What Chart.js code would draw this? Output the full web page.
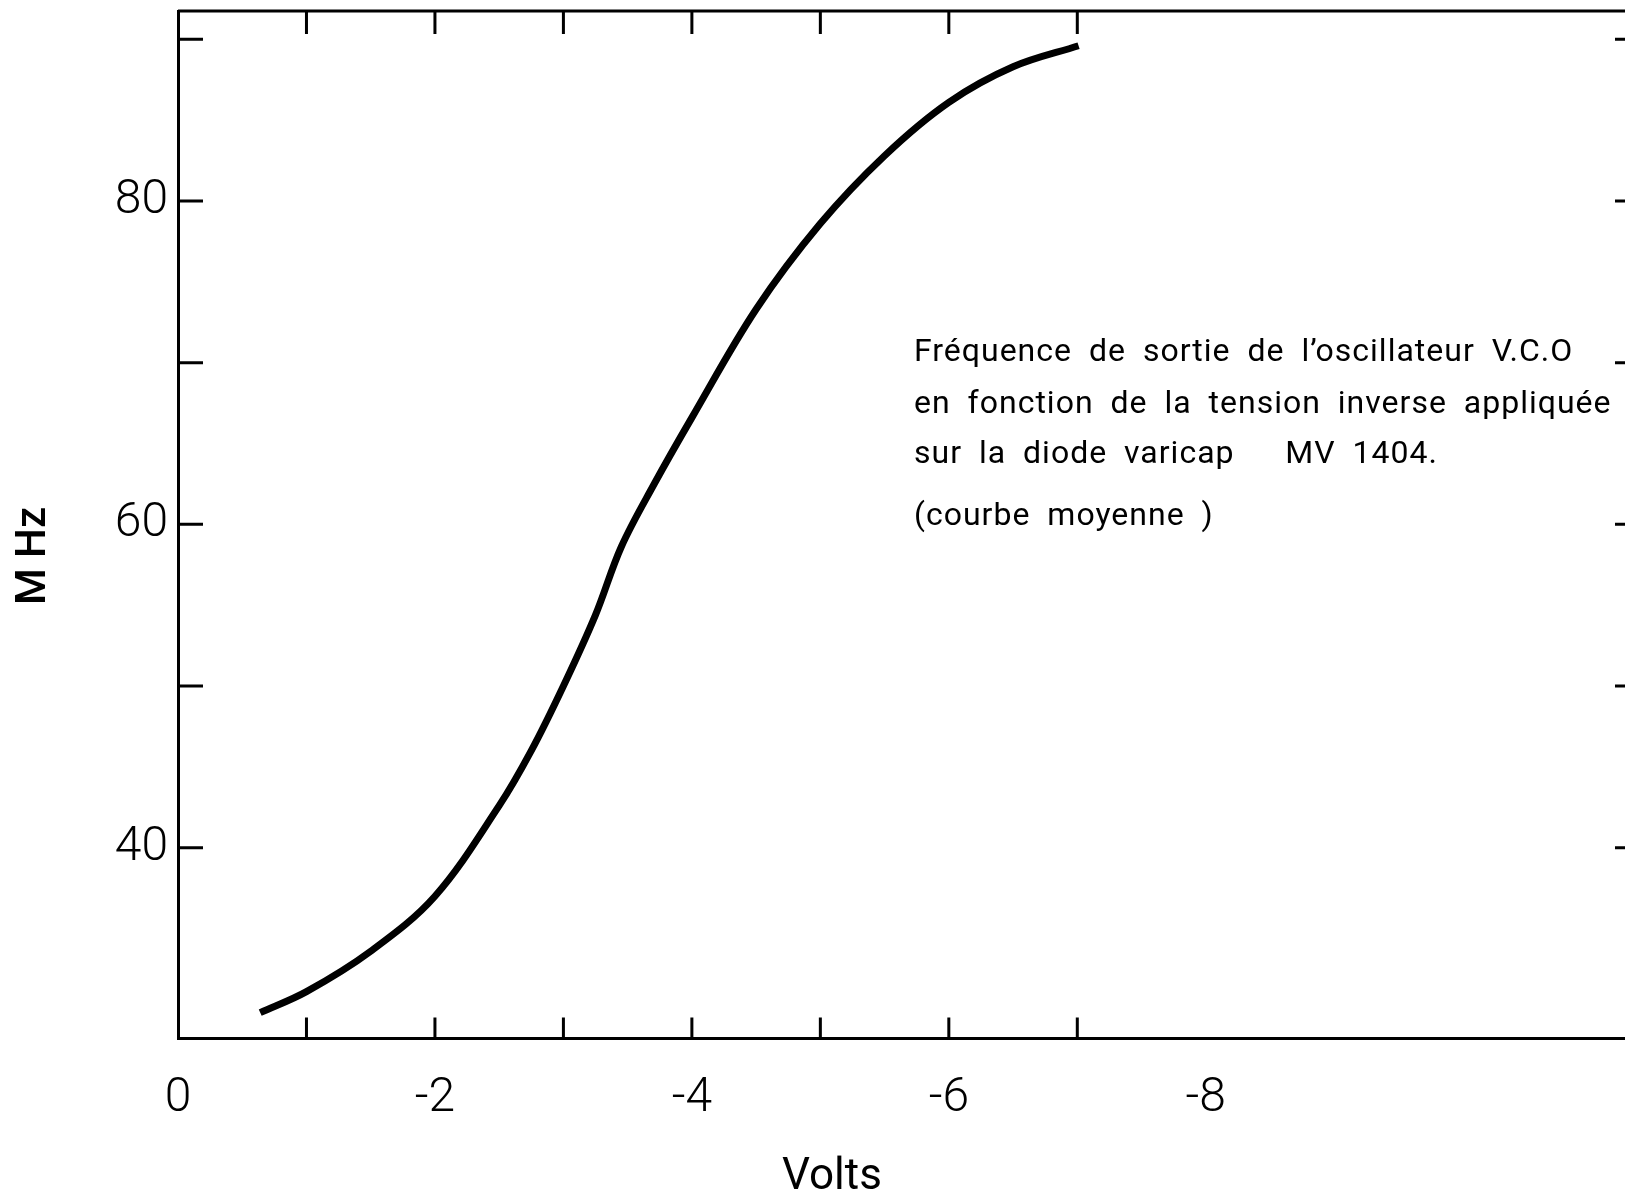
<!DOCTYPE html>
<html>
<head>
<meta charset="utf-8">
<title>Fréquence VCO / tension varicap</title>
<script src="https://cdn.jsdelivr.net/npm/chart.js@4.4.0/dist/chart.umd.min.js"></script>
<style>
html,body{margin:0;padding:0;background:#fff;overflow:hidden}
#wrap{width:1660px;height:1200px}
</style>
</head>
<body>
<div id="wrap"><canvas id="c"></canvas></div>
<script>
// tension inverse (V) et frequence (MHz)
const volts = [-0.64,-1.0,-1.5,-2.0,-2.5,-2.75,-3.0,-3.25,-3.45,-3.7,-4.0,-4.5,-5.0,-5.5,-6.0,-6.5,-7.01];
const mhz = [29.8,31.1,33.6,37.0,42.6,46.0,50.0,54.4,58.6,62.4,66.6,73.3,78.6,82.8,86.1,88.3,89.6];

const xTicks = [0,-1,-2,-3,-4,-5,-6,-7,-8];
const xLabels = [0,-2,-4,-6,-8];
const yTicks = [40,50,60,70,80,90];
const yLabels = [40,60,80];

const note = [
    "Fréquence de sortie de l’oscillateur V.C.O",
    "en fonction de la tension inverse appliquée",
    "sur la diode varicap   MV 1404.",
    "(courbe moyenne )"
];
const noteY = [361,413,463,525];

const frame = {
    id: "frame",
    afterDraw(chart){
        const {ctx, chartArea:a, scales:{x, y}} = chart;
        ctx.save();
        ctx.strokeStyle = "#000";
        ctx.lineWidth = 3;
        ctx.beginPath();
        // top and right border
        ctx.moveTo(a.left, a.top); ctx.lineTo(a.right, a.top);
        ctx.moveTo(a.right, a.top); ctx.lineTo(a.right, a.bottom);
        // inward tick marks
        xTicks.forEach(v => {
            if(v===0 || v<-7) return;
            const px = x.getPixelForValue(v);
            ctx.moveTo(px, a.bottom); ctx.lineTo(px, a.bottom-21);
            ctx.moveTo(px, a.top); ctx.lineTo(px, a.top+23);
        });
        yTicks.forEach(v => {
            const py = y.getPixelForValue(v);
            ctx.moveTo(a.left, py); ctx.lineTo(a.left+25, py);
            ctx.moveTo(a.right, py); ctx.lineTo(a.right-25, py);
        });
        ctx.stroke();

        ctx.fillStyle = "#000";
        // axis titles
        ctx.font = "400 44px Roboto";
        ctx.textAlign = "center";
        ctx.textBaseline = "middle";
        ctx.fillText("Volts", x.getPixelForValue(-5.09), 1178);

        ctx.save();
        ctx.translate(34, 556);
        ctx.rotate(-Math.PI/2);
        ctx.font = "500 42px Roboto";
        ctx.fillText("M Hz", 0, 0);
        ctx.restore();

        // annotation
        ctx.font = "400 32px Roboto";
        ctx.textAlign = "left";
        ctx.textBaseline = "alphabetic";
        ctx.letterSpacing = "1px";
        ctx.wordSpacing = "8px";
        note.forEach((t, i) => ctx.fillText(t, 914, noteY[i]));
        ctx.restore();
    }
};

new Chart(document.getElementById("c"), {
    type: "line",
    data: {
        datasets: [{
            data: volts.map((v, i) => ({x: v, y: mhz[i]})),
            borderColor: "#000",
            borderWidth: 7,
            borderCapStyle: "butt",
            pointRadius: 0,
            tension: 0.35,
            fill: false
        }]
    },
    options: {
        responsive: true,
        maintainAspectRatio: false,
        animation: false,
        layout: {padding: {top: 11, right: 20, left: 0, bottom: 0}},
        plugins: {legend: {display: false}, tooltip: {enabled: false}},
        scales: {
            x: {
                type: "linear",
                reverse: true,
                min: -11.38,
                max: 0,
                afterBuildTicks: s => { s.ticks = xTicks.map(v => ({value: v})) },
                afterFit: s => { s.height = 161.5; s.paddingLeft = 0; s.paddingRight = 0 },
                grid: {display: false, drawTicks: false},
                border: {display: true, color: "#000", width: 3},
                ticks: {
                    autoSkip: false,
                    maxRotation: 0,
                    padding: 32,
                    color: "#000",
                    font: {family: "Roboto", size: 48, weight: 300},
                    callback: v => xLabels.includes(v) ? String(v) : ""
                }
            },
            y: {
                type: "linear",
                min: 28.2,
                max: 91.75,
                afterBuildTicks: s => { s.ticks = yTicks.map(v => ({value: v})) },
                afterFit: s => { s.width = 178; s.paddingTop = 0; s.paddingBottom = 0 },
                grid: {display: false, drawTicks: false},
                border: {display: true, color: "#000", width: 3},
                ticks: {
                    autoSkip: false,
                    padding: 10,
                    color: "#000",
                    font: {family: "Roboto", size: 48, weight: 300},
                    callback: v => yLabels.includes(v) ? String(v) : ""
                }
            }
        }
    },
    plugins: [frame]
});
</script>
</body>
</html>
